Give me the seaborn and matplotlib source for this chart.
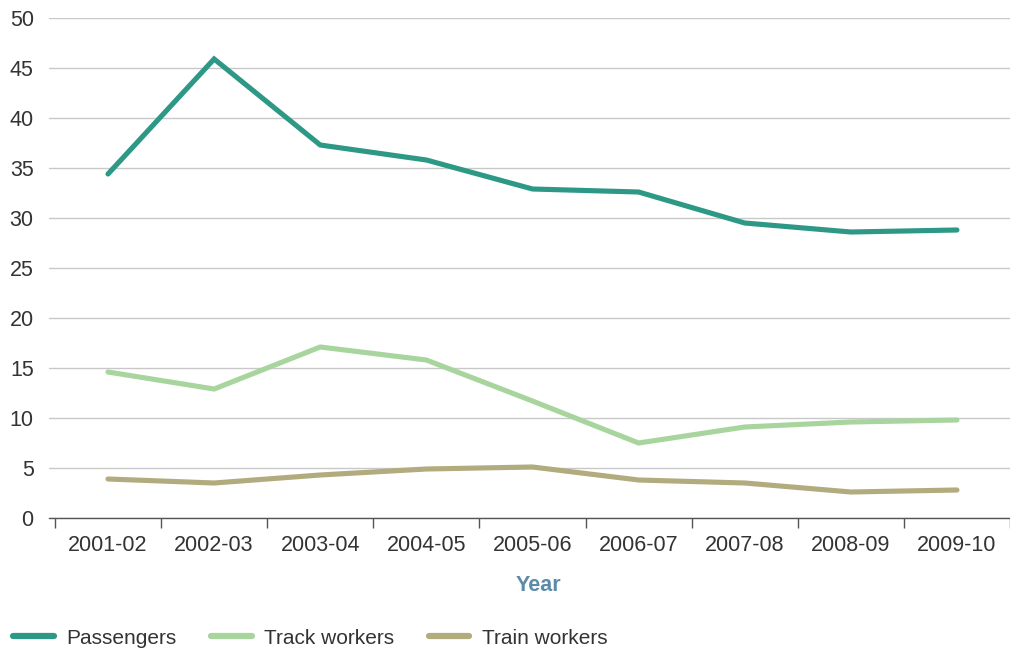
import numpy as np
import pandas as pd
import seaborn as sns
import matplotlib
matplotlib.use("Agg")
import matplotlib.pyplot as plt
from matplotlib.lines import Line2D

years = ["2001-02", "2002-03", "2003-04", "2004-05", "2005-06",
         "2006-07", "2007-08", "2008-09", "2009-10"]
passengers = [34.4, 45.9, 37.3, 35.8, 32.9, 32.6, 29.5, 28.6, 28.8]
track_workers = [14.6, 12.9, 17.1, 15.8, 11.7, 7.5, 9.1, 9.6, 9.8]
train_workers = [3.9, 3.5, 4.3, 4.9, 5.1, 3.8, 3.5, 2.6, 2.8]
series_names = ["Passengers", "Track workers", "Train workers"]
y_ticks = [0, 5, 10, 15, 20, 25, 30, 35, 40, 45, 50]

colors = ["#2e9886", "#a8d59e", "#b2ab7e"]

sns.set_theme(style="white")
plt.rcParams["font.family"] = ["Liberation Sans", "DejaVu Sans"]

rows = []
for name, vals in zip(series_names, [passengers, track_workers, train_workers]):
    for i, (yr, v) in enumerate(zip(years, vals)):
        rows.append({"idx": i, "Year": yr, "value": v, "series": name})
df = pd.DataFrame(rows)

fig = plt.figure(figsize=(10.1, 6.5), dpi=100)
ax = fig.add_axes([49 / 1010, 1 - 518 / 650, 1 - 49 / 1010, 500 / 650])

sns.lineplot(data=df, x="idx", y="value", hue="series", palette=colors,
             hue_order=series_names, linewidth=3.7, ax=ax, legend=False,
             solid_capstyle="round", solid_joinstyle="miter")

ax.set_xlim(-0.556, 8.47)
ax.set_ylim(0, 50)
ax.set_yticks(y_ticks)
ax.set_yticklabels([str(t) for t in y_ticks])
ax.set_xticks(range(len(years)))
ax.set_xticklabels(years)
ax.set_xticks(np.arange(-0.5, len(years), 1.0), minor=True)
ax.tick_params(axis="x", which="major", length=0, pad=12, labelsize=15.5, labelcolor="#333333")
ax.tick_params(axis="x", which="minor", length=7, width=1, color="#555555", direction="out", bottom=True)
ax.tick_params(axis="y", length=0, pad=11, labelsize=15.5, labelcolor="#333333")

ax.grid(axis="y", color="#c8c8c8", linewidth=1)
ax.set_axisbelow(True)
for s in ["left", "right", "top"]:
    ax.spines[s].set_visible(False)
ax.spines["bottom"].set_color("#555555")
ax.spines["bottom"].set_linewidth(1)

ax.set_ylabel("")
ax.set_xlabel("Year", fontsize=15.5, fontweight="bold", color="#5b8ba8")
ax.xaxis.set_label_coords((538 - 49) / (1010 - 49), -(575 - 518) / 500)

handles = [Line2D([0], [0], color=c, linewidth=4.5, solid_capstyle="round") for c in colors]
fig.legend(handles, series_names, loc="center left", bbox_to_anchor=(0.013, 1 - 638 / 650),
           ncol=3, frameon=False, fontsize=15, handlelength=1.95, handletextpad=0.6,
           columnspacing=1.65, borderpad=0, borderaxespad=0, labelcolor="#333333")

fig.savefig("out.png", dpi=100)
